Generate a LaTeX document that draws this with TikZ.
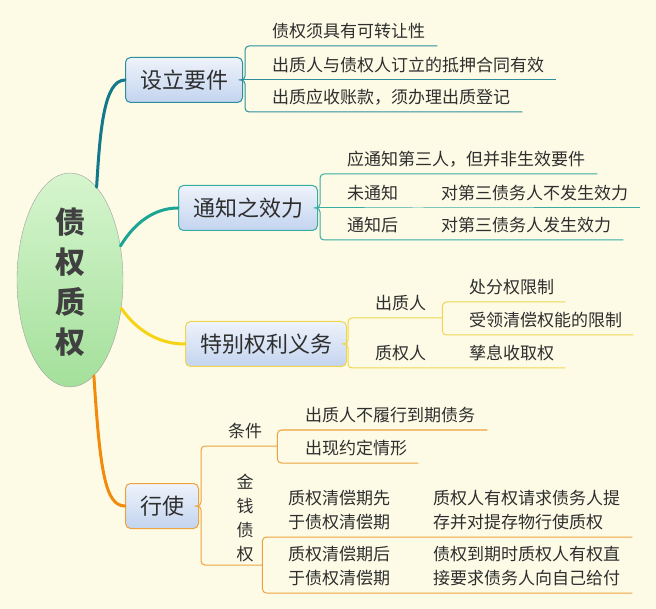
\documentclass[tikz,border=0pt]{standalone}
\usepackage{fontspec}
\setmainfont{Noto Sans CJK SC}
\usetikzlibrary{shapes.geometric}
\definecolor{bg}{HTML}{FDFBE6}
\definecolor{tealA}{HTML}{12788A}
\definecolor{tealAl}{HTML}{2A8E9C}
\definecolor{tealB}{HTML}{1CA594}
\definecolor{tealBl}{HTML}{36ACA3}
\definecolor{yelC}{HTML}{F7D315}
\definecolor{yelCl}{HTML}{F0D550}
\definecolor{oraD}{HTML}{F28A0C}
\definecolor{oraDl}{HTML}{EDA23E}
\definecolor{txt}{HTML}{2E2E2E}
\definecolor{boxt}{HTML}{EEF3FB}
\definecolor{boxb}{HTML}{C3D4EF}
\definecolor{hubt}{HTML}{D6F5CE}
\definecolor{hubb}{HTML}{A4E09B}
\tikzset{%
    hub/.style={ellipse, draw=gray!75, top color=hubt, bottom color=hubb, minimum width=106pt, minimum height=214pt, inner sep=0pt},
    hubtx/.style={font=\fontsize{30}{40}\selectfont\bfseries, text=black!75, align=center},
    blo/.style={rectangle, rounded corners=5pt, line width=1pt, top color=boxt, bottom color=boxb, minimum height=45pt, inner xsep=14.5pt, anchor=west, font=\fontsize{22}{26}\selectfont, text=txt},
    lf/.style={anchor=south west, inner xsep=0pt, inner ysep=6.5pt, align=left, font=\fontsize{17}{24}\selectfont, text=txt},
    br/.style={line width=1pt, rounded corners=4pt},
    pri/.style={line width=3pt, line cap=round},
}

\begin{document}
\begin{tikzpicture}[x=1pt,y=-1pt]
    \fill[bg] (0,0) rectangle (656,609);
    \useasboundingbox (0,0) rectangle (656,609);
    \node[hub] (hub) at (70,280) {};
    \node[hubtx] at (70,282) {债\\权\\质\\权};
    \node[blo, draw=tealAl] (sl) at (125,80) {设立要件};
    \node[blo, draw=tealBl] (tz) at (178,208) {通知之效力};
    \node[blo, draw=yelCl] (tb) at (185,344) {特别权利义务};
    \node[blo, draw=oraDl] (xs) at (125,506) {行使};
    \draw[pri, tealA] (hub.74) .. controls (100,130) and (104,80) .. (sl.west);
    \draw[pri, tealB] (hub.34) .. controls (135,222) and (155,208) .. (tz.west);
    \draw[pri, yelC] (hub.-29) .. controls (138,332) and (160,344) .. (tb.west);
    \draw[pri, oraD] (hub.-76) .. controls (100,470) and (105,506) .. (xs.west);
    % 设立要件
    \node[lf, text width=165pt] (a1) at (272,46) {债权须具有可转让性};
    \node[lf, text width=284pt] (a2) at (272,80) {出质人与债权人订立的抵押合同有效};
    \node[lf, text width=250pt] (a3) at (272,112) {出质应收账款，须办理出质登记};
    \draw[br, tealAl] (sl.east) -| ([xshift=-27pt]a1.south west) -- (a1.south east);
    \draw[br, tealAl] (sl.east) -- (a2.south east);
    \draw[br, tealAl] (sl.east) -| ([xshift=-27pt]a3.south west) -- (a3.south east);
    % 通知之效力
    \node[lf, text width=250pt] (b1) at (347,174) {应通知第三人，但并非生效要件};
    \node[lf, text width=70pt] (b2) at (347,208) {未通知};
    \node[lf, text width=199pt] (b2g) at (441,208) {对第三债务人不发生效力};
    \node[lf, text width=70pt] (b3) at (347,240) {通知后};
    \node[lf, text width=182pt] (b3g) at (441,240) {对第三债务人发生效力};
    \draw[br, tealBl] (tz.east) -| ([xshift=-27pt]b1.south west) -- (b1.south east);
    \draw[br, tealBl] (tz.east) -- (b2.south east) -- (b2g.south east);
    \draw[br, tealBl] (tz.east) -| ([xshift=-27pt]b3.south west) -- (b3.south east) -- (b3g.south east);
    % 特别权利义务
    \node[lf, text width=67pt] (c1) at (375,318) {出质人};
    \node[lf, text width=96pt] (c1a) at (469,302) {处分权限制};
    \node[lf, text width=164pt] (c1b) at (469,335) {受领清偿权能的限制};
    \node[lf, text width=67pt] (c2) at (375,368) {质权人};
    \node[lf, text width=96pt] (c2a) at (469,368) {孳息收取权};
    \draw[br, yelCl] (tb.east) -| ([xshift=-27pt]c1.south west) -- (c1.south east);
    \draw[br, yelCl] (tb.east) -| ([xshift=-27pt]c2.south west) -- (c2.south east) -- (c2a.south east);
    \draw[br, yelCl] (c1.south east) |- (c1a.south east);
    \draw[br, yelCl] (c1.south east) |- (c1b.south east);
    % 行使
    \node[lf, text width=49pt] (d1) at (228,446) {条件};
    \node[lf, text width=182pt] (d1a) at (305,430) {出质人不履行到期债务};
    \node[lf, text width=113pt] (d1b) at (305,463) {出现约定情形};
    \node[lf, text width=34pt, inner ysep=3pt, align=center] (d2) at (228,565) {金\\钱\\债\\权};
    \node[lf, text width=125pt] (d2a) at (288,537) {质权清偿期先\\于债权清偿期};
    \node[lf, text width=199pt] (d2ag) at (433,537) {质权人有权请求债务人提\\存并对提存物行使质权};
    \node[lf, text width=125pt] (d2b) at (288,593) {质权清偿期后\\于债权清偿期};
    \node[lf, text width=199pt] (d2bg) at (433,593) {债权到期时质权人有权直\\接要求债务人向自己给付};
    \draw[br, oraDl] (xs.east) -| ([xshift=-27pt]d1.south west) -- (d1.south east);
    \draw[br, oraDl] (xs.east) -| ([xshift=-27pt]d2.south west) -- (d2.south east);
    \draw[br, oraDl] (d1.south east) |- (d1a.south east);
    \draw[br, oraDl] (d1.south east) |- (d1b.south east);
    \draw[br, oraDl] (d2.south east) |- (d2a.south east) -- (d2ag.south east);
    \draw[br, oraDl] (d2.south east) |- (d2b.south east) -- (d2bg.south east);
\end{tikzpicture}
\end{document}
